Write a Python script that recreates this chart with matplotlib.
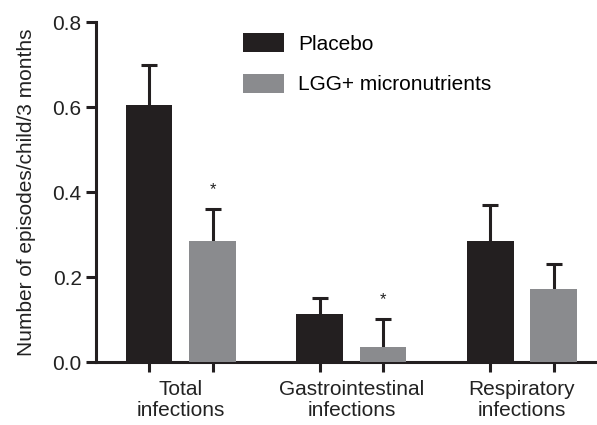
import numpy as np
import matplotlib.pyplot as plt
from matplotlib.patches import Patch

plt.rcParams['font.family'] = ['Liberation Sans', 'DejaVu Sans']

groups = ["Total\ninfections", "Gastrointestinal\ninfections", "Respiratory\ninfections"]
placebo = [0.605, 0.114, 0.285]
placebo_err = [0.095, 0.036, 0.084]
lgg = [0.285, 0.036, 0.172]
lgg_err = [0.075, 0.065, 0.058]
starred = [True, True, False]

black = "#231f20"
gray = "#8a8b8e"
txt = "#222222"
fs = 15

fig = plt.figure(figsize=(5.97, 4.25), dpi=100)
ax = fig.add_axes([0.160, 0.148, 0.840, 0.800])

x = np.arange(len(groups))
off = 0.186
w = 0.274

# error bars (upper only), drawn behind the bars
for xs, vals, errs in [(x - off, placebo, placebo_err), (x + off, lgg, lgg_err)]:
    tops = np.array(vals) + np.array(errs)
    ax.vlines(xs, vals, tops, color=black, lw=2.2, zorder=2)
    ax.plot(xs, tops, ls="none", marker="_", ms=11.5, mew=2.2, color=black, zorder=2)

ax.bar(x - off, placebo, w, color=black, zorder=3)
ax.bar(x + off, lgg, w, color=gray, zorder=3)

for i, s in enumerate(starred):
    if s:
        ax.text(x[i] + off, lgg[i] + lgg_err[i] + 0.045, "*", ha="center", va="center",
                fontsize=12, color=txt)

ax.set_xlim(-0.5, 2.44)
ax.set_ylim(0, 0.8)
ax.set_yticks([0.0, 0.2, 0.4, 0.6, 0.8])
ax.set_yticklabels(["0.0", "0.2", "0.4", "0.6", "0.8"])
ax.set_xticks(x)
ax.set_xticklabels(groups, linespacing=1.15)
ax.set_xticks(np.concatenate([x - off, x + off]), minor=True)
ax.tick_params(axis="x", which="major", length=0, pad=13, labelsize=fs, colors=txt)
ax.tick_params(axis="x", which="minor", length=7, width=2.2, direction="out", color=black)
ax.tick_params(axis="y", length=7, width=2.2, direction="out", pad=3, labelsize=fs,
               color=black, labelcolor=txt)

for side in ["top", "right"]:
    ax.spines[side].set_visible(False)
for side in ["left", "bottom"]:
    ax.spines[side].set_linewidth(2.2)
    ax.spines[side].set_color(black)

ax.set_ylabel("Number of episodes/child/3 months", fontsize=fs, color=txt, labelpad=12)

handles = [Patch(facecolor=black, edgecolor="none"), Patch(facecolor=gray, edgecolor="none")]
ax.legend(handles, ["Placebo", "LGG+ micronutrients"], loc="upper left",
          bbox_to_anchor=(243 / 597, 1 - 33 / 425), bbox_transform=fig.transFigure,
          frameon=False, fontsize=fs, handlelength=1.97, handleheight=1.06,
          handletextpad=0.67, labelspacing=0.95, borderpad=0, borderaxespad=0)

fig.savefig("out.png", dpi=100)
